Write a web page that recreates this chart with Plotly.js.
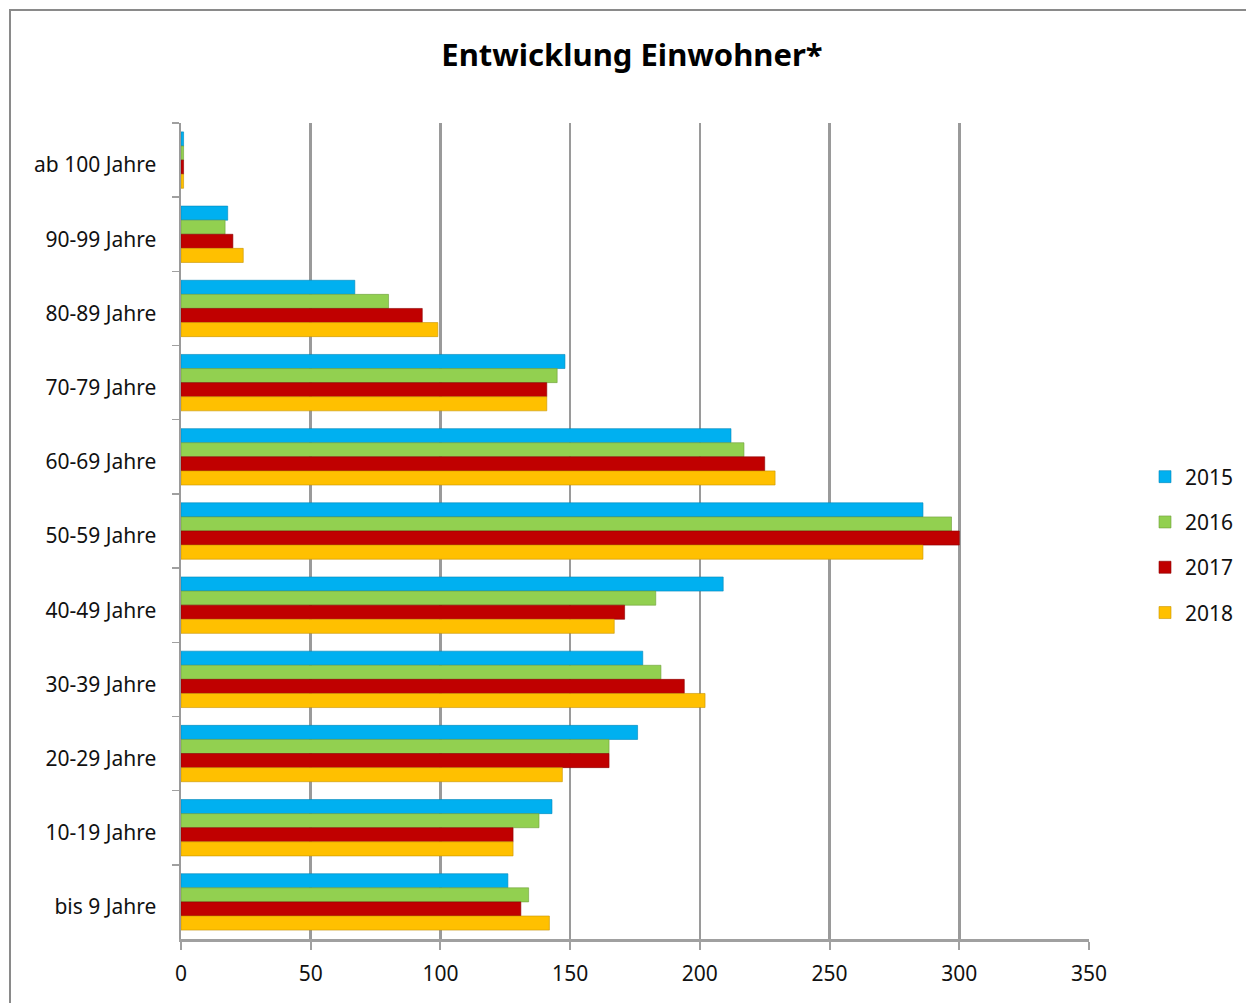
<!DOCTYPE html>
<html>
<head>
<meta charset="utf-8">
<script src="https://cdn.plot.ly/plotly-3.0.1.min.js"></script>
<style>
  html, body { margin: 0; padding: 0; background: #fff; }
  #chart { width: 1246px; height: 1003px; }
</style>
</head>
<body>
<div id="chart"></div>
<script>
// Categories listed top to bottom as in the reference
const categories = ["ab 100 Jahre", "90-99 Jahre", "80-89 Jahre", "70-79 Jahre", "60-69 Jahre",
  "50-59 Jahre", "40-49 Jahre", "30-39 Jahre", "20-29 Jahre", "10-19 Jahre", "bis 9 Jahre"];
const years = ["2015", "2016", "2017", "2018"];
const values2015 = [1, 18, 67, 148, 212, 286, 209, 178, 176, 143, 126];
const values2016 = [1, 17, 80, 145, 217, 297, 183, 185, 165, 138, 134];
const values2017 = [1, 20, 93, 141, 225, 300, 171, 194, 165, 128, 131];
const values2018 = [1, 24, 99, 141, 229, 286, 167, 202, 147, 128, 142];
const xTicks = [0, 50, 100, 150, 200, 250, 300, 350];

const colors = ["#00B0F0", "#92D050", "#C00000", "#FFC000"];
const edge = ["#0087B8", "#6E9E3A", "#8A0000", "#C79400"];
const series = [values2015, values2016, values2017, values2018];

const traces = series.map((vals, i) => ({
  type: "bar",
  orientation: "h",
  name: years[i],
  legendgroup: years[i],
  x: vals,
  y: categories,
  marker: { color: colors[i], line: { color: edge[i], width: 0.6 } },
  hoverinfo: "x+name"
}));

const W = 1246, H = 1003;
const L = 181, R = 1089, T = 123, B = 939;
const px = v => (v - L) / (R - L);
const py = v => (B - v) / (B - T);

const layout = {
  width: W, height: H,
  margin: { l: L, r: W - R, t: T, b: H - B, pad: 0, autoexpand: false },
  paper_bgcolor: "#ffffff",
  plot_bgcolor: "#ffffff",
  font: { family: "Noto Sans, Open Sans, sans-serif", size: 21, color: "#111" },
  title: {
    text: "<b>Entwicklung Einwohner*</b>",
    font: { family: "Noto Sans, Open Sans, sans-serif", size: 31, color: "#000" },
    x: px(632), xanchor: "center", xref: "paper",
    y: 1 - 55 / H, yanchor: "middle", yref: "container"
  },
  barmode: "group",
  bargap: 0.24,
  bargroupgap: 0,
  xaxis: {
    range: [0, 350],
    tickvals: xTicks,
    ticktext: xTicks.map(String),
    showgrid: true, gridcolor: "#9a9a9a", gridwidth: 2.5,
    zeroline: false,
    showline: true, linecolor: "#a0a0a0", linewidth: 2.5,
    ticks: "outside", ticklen: 8, tickcolor: "#a0a0a0", tickwidth: 2,
    ticklabelstandoff: 6,
    tickfont: { size: 21, color: "#111" },
    fixedrange: true
  },
  yaxis: {
    type: "category",
    categoryorder: "array", categoryarray: categories,
    autorange: "reversed",
    showgrid: false, zeroline: false,
    showline: true, linecolor: "#9a9a9a", linewidth: 2.5,
    ticks: "outside", ticklen: 7, tickcolor: "#a0a0a0", tickwidth: 1.5,
    tickson: "boundaries",
    ticklabelstandoff: 18,
    ticklabelshift: -5,
    tickfont: { size: 21, color: "#111" },
    fixedrange: true
  },
  legend: {
    x: px(1145), xanchor: "left",
    y: py(545), yanchor: "middle",
    font: { size: 21, color: "#111" },
    tracegroupgap: 15,
    itemwidth: 30,
    bgcolor: "rgba(0,0,0,0)"
  },
  showlegend: true,
  shapes: [
    {
      type: "rect", xref: "paper", yref: "paper",
      x0: px(10), x1: px(1260), y0: py(1020), y1: py(10),
      line: { color: "#8a8a8a", width: 2 }, fillcolor: "rgba(0,0,0,0)", layer: "below"
    }
  ]
};

Plotly.newPlot("chart", traces, layout, { displayModeBar: false, staticPlot: true });
</script>
</body>
</html>
